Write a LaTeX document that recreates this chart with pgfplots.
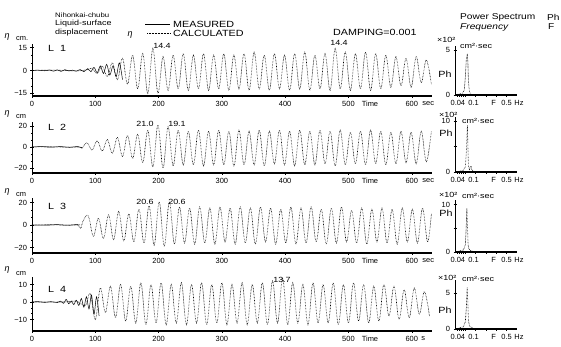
\documentclass[border=0pt]{standalone}
\usepackage{pgfplots}
\pgfplotsset{compat=1.18}
\usepackage{fontspec}
\setmainfont{Liberation Sans}
\newfontfamily\wsans[FakeStretch=1.2]{Liberation Sans}
\newcommand\tk{\fontsize{7.5}{8}\selectfont}
\newcommand\hd{\wsans\fontsize{9}{10}\selectfont}
\newcommand\sm{\wsans\fontsize{7.5}{8}\selectfont}
\newcommand\hr{\wsans\fontsize{8.5}{9}\selectfont}

\pgfplotsset{
  base/.style={scale only axis, clip=false,
    axis x line=bottom, axis y line=left,
    x axis line style={-, line width=1.1bp},
    y axis line style={-, line width=0.6bp},
    every outer x axis line/.append style={-},
    every outer y axis line/.append style={-},
    tick align=center, major tick length=3bp, minor tick length=1.6bp,
    tick style={black, line width=0.5bp},
    tick label style={font=\tk},
    /pgf/number format/assume math mode=true},
  ts/.style={base, width=400bp, xmin=0, xmax=632,
    xtick={0,100,...,600}, minor x tick num=4, minor y tick num=2,
    extra x tick style={tick style={draw=none}}},
  sp/.style={base, width=62bp, xmin=0, xmax=0.6, ymin=0,
    xtick={0.02,0.04,0.06,0.08,0.1,0.2,0.3,0.4,0.5},
    xticklabels={,\makebox[0pt][r]{0.04\hspace{-6bp}},,,\makebox[0pt][l]{\hspace{3bp}0.1},,,,0.5\makebox[0pt][l]{\hspace{2.5bp}Hz}},
    extra x ticks={0.375}, extra x tick labels={F},
    extra x tick style={tick style={draw=none}}},
  calc/.style={black, line width=0.6bp, dash pattern=on 0.6bp off 0.9bp, smooth, tension=0.6},
  meas/.style={black, line width=0.5bp, smooth, tension=0.5},
  spc/.style={black, line width=0.6bp, dash pattern=on 0.6bp off 0.9bp},
}
\tikzset{t/.style={inner sep=0pt}}

\begin{document}
\begin{tikzpicture}
\useasboundingbox (0,0) rectangle (561bp,-347bp);

% ---------------- Row 1 ----------------
\begin{axis}[ts, at={(32bp,-96bp)}, anchor=south west, height=52bp,
  ymin=-16.7, ymax=17.3, ytick={-15,0,15}, yticklabels={−15,0,15},
  extra x ticks={534,626}, extra x tick labels={Time,sec}]
\addplot[meas] coordinates {(0,0)(10,0.2)(20,-0.2)(28,0.3)(34,-0.5)(40,0.4)(46,-0.6)(52,0.5)(58,-0.3)(64,0.2)(70,-0.5)(76,0.6)(82,-0.8)(88,1.2)(93,-0.8)(98,2)(103,-1.5)(108,3)(113,-2)(118,4)(123,-3)(128,3)(133,-4)(138,5)(143,-6)};
\addplot[calc] coordinates {(0,0)(40,0.2)(70,-0.3)(87,0.5)(95,1.5)(103,-2)(111,3)(119,-4)(127,5)(135,-6)(143,8)(151,-9)(159,10)(167,-12)(175,11)(183,-15)(191,14.4)(199,-15)(207,9)(215,-13)(223,10)(231,-12)(239,11)(247,-13)(255,10)(263,-12)(271,11)(279,-13)(287,10)(295,-12)(303,11)(311,-13)(319,10)(327,-12)(335,11)(343,-13)(351,12)(359,-12)(367,10)(375,-13)(383,11)(391,-12)(399,10)(407,-13)(415,11)(423,-12)(431,12)(439,-13)(447,10)(455,-12)(463,11)(471,-13)(479,14.4)(487,-12)(495,12)(503,-13)(511,11)(519,-12)(527,12)(535,-13)(543,11)(551,-12)(559,10)(567,-11)(575,9)(583,-10)(591,8)(599,-11)(607,9)(615,-8)(623,7)(631,-9)};
\end{axis}
\begin{axis}[sp, at={(455bp,-95bp)}, anchor=south west, height=49bp,
  ymax=5.44, ytick={0,5}]
\addplot[spc] coordinates {(0.01,0)(0.03,0.1)(0.05,0.15)(0.07,0.1)(0.09,0.6)(0.1,2)(0.11,4)(0.12,4.6)(0.125,3.5)(0.13,1.5)(0.14,0.4)(0.15,0.1)(0.17,0.05)(0.2,0)};
\end{axis}

% ---------------- Row 2 ----------------
\begin{axis}[ts, at={(32bp,-173bp)}, anchor=south west, height=51bp,
  ymin=-24.8, ymax=23.8, ytick={-20,0,20}, yticklabels={−20,0,20},
  extra x ticks={534,626}, extra x tick labels={Time,sec}]
\addplot[meas] coordinates {(0,0)(15,0.3)(30,-0.2)(45,0.3)(60,-0.3)(72,0.4)(80,-1)};
\addplot[calc] coordinates {(0,0)(30,0.2)(60,-0.2)(75,0)(79,-1)(87,4)(95,-3)(103,6)(111,-4)(119,7)(127,-6)(135,9)(143,-9)(151,11)(159,-11)(167,12)(175,-15)(183,16)(191,-19)(199,21)(207,-20)(215,19.1)(223,-18)(231,16)(239,-17)(247,15)(255,-17)(263,16)(271,-18)(279,15)(287,-17)(295,16)(303,-17)(311,15)(319,-18)(327,16)(335,-17)(343,15)(351,-17)(359,16)(367,-18)(375,15)(383,-16)(391,16)(399,-17)(407,15)(415,-18)(423,16)(431,-17)(439,15)(447,-17)(455,16)(463,-16)(471,15)(479,-18)(487,16)(495,-17)(503,14)(511,-16)(519,15)(527,-17)(535,16)(543,-16)(551,15)(559,-17)(567,14)(575,-16)(583,15)(591,-15)(599,14)(607,-16)(615,15)(623,-14)(631,15)};
\end{axis}
\begin{axis}[sp, at={(455bp,-172bp)}, anchor=south west, height=55bp,
  ymax=10.8, ytick={0,5,10}, yticklabels={0,,10}]
\addplot[spc] coordinates {(0.01,0)(0.05,0.2)(0.08,0.3)(0.1,1)(0.11,4)(0.12,9.2)(0.125,5)(0.13,1.2)(0.14,0.5)(0.155,1.2)(0.165,0.3)(0.2,0)};
\end{axis}

% ---------------- Row 3 ----------------
\begin{axis}[ts, at={(32bp,-253bp)}, anchor=south west, height=55bp,
  ymin=-24.9, ymax=24, ytick={-20,0,20}, yticklabels={−20,0,20},
  extra x ticks={534,626}, extra x tick labels={Time,sec}]
\addplot[meas] coordinates {(0,0)(20,-0.2)(40,0.3)(55,-0.2)(70,0.3)(76,0)};
\addplot[calc] coordinates {(0,0)(30,0.2)(60,-0.2)(72,0)(77,-3)(81,4)(89,8)(97,-10)(105,6)(113,-12)(121,9)(129,-13)(137,12)(145,-14)(153,10)(161,-15)(169,14)(177,-16)(185,17)(193,-18)(201,20.6)(209,-19)(217,20.6)(225,-17)(233,16)(241,-16)(249,15)(257,-17)(265,16)(273,-16)(281,15)(289,-17)(297,16)(305,-15)(313,15)(321,-17)(329,16)(337,-16)(345,15)(353,-17)(361,16)(369,-15)(377,15)(385,-17)(393,14)(401,-16)(409,16)(417,-17)(425,15)(433,-16)(441,16)(449,-15)(457,14)(465,-17)(473,15)(481,-16)(489,16)(497,-15)(505,13)(513,-16)(521,15)(529,-17)(537,14)(545,-15)(553,15)(561,-16)(569,14)(577,-17)(585,15)(593,-15)(601,14)(609,-16)(617,15)(625,-15)(631,10)};
\end{axis}
\begin{axis}[sp, at={(455bp,-252bp)}, anchor=south west, height=52bp,
  ymax=11, ytick={0,5,10}, yticklabels={0,,10}]
\addplot[spc] coordinates {(0.01,0)(0.05,0.3)(0.08,0.4)(0.1,1.5)(0.108,5)(0.115,9.3)(0.12,6)(0.127,1.5)(0.135,0.6)(0.15,0.3)(0.2,0)};
\end{axis}

% ---------------- Row 4 ----------------
\begin{axis}[ts, at={(32bp,-331bp)}, anchor=south west, height=54bp,
  ymin=-16.6, ymax=14.3, ytick={-10,0,10}, yticklabels={−10,0,10},
  extra x ticks={534,618}, extra x tick labels={Time,s}]
\addplot[meas] coordinates {(0,0)(10,0.2)(20,-0.2)(30,0.2)(40,-0.3)(45,0.5)(50,-0.8)(54,1.5)(58,-1)(62,0.5)(66,-1.5)(70,1)(74,-2)(78,2)(82,-3)(86,3)(90,-4)(94,4)(98,-7)(102,3)(106,-8)};
\addplot[calc] coordinates {(0,0)(50,0)(70,0.5)(84,-2)(92,5)(100,-10)(108,8)(116,-6)(124,9)(132,-9)(140,10)(148,-11)(156,9)(164,-12)(172,11)(180,-13)(188,10)(196,-12)(204,11)(212,-13)(220,10)(228,-12)(236,11)(244,-13)(252,10)(260,-12)(268,11)(276,-13)(284,10)(292,-12)(300,11)(308,-13)(316,10)(324,-12)(332,11)(340,-13)(348,10)(356,-12)(364,11)(372,-13)(380,12)(388,-12)(396,13.7)(404,-13)(412,11)(420,-12)(428,10)(436,-13)(444,11)(452,-12)(460,10)(468,-12)(476,11)(484,-13)(492,10)(500,-12)(508,11)(516,-11)(524,10)(532,-12)(540,9)(548,-11)(556,10)(564,-8)(572,9)(580,-10)(588,7)(596,-9)(604,8)(612,-7)(620,6)(628,-8)};
\end{axis}
\begin{axis}[sp, at={(455bp,-329bp)}, anchor=south west, height=49bp,
  ymax=6.8, ytick={0,5}]
\addplot[spc] coordinates {(0.01,0)(0.05,0.2)(0.08,0.3)(0.1,1)(0.11,3)(0.118,5.8)(0.125,3.5)(0.13,1.2)(0.14,0.4)(0.16,0.2)(0.2,0)};
\end{axis}

% ---------------- Header text ----------------
\node[t, anchor=west, font=\wsans\fontsize{6.5}{7}\selectfont] at (55bp,-15bp) {Nihonkai-chubu};
\node[t, anchor=west, font=\sm] at (55bp,-24bp) {Liquid-surface};
\node[t, anchor=west, font=\sm] at (55bp,-33bp) {displacement};
\node[t, font=\fontsize{9}{10}\selectfont\itshape] at (130bp,-35bp) {η};
\draw[line width=0.9bp] (145bp,-24bp) -- (170bp,-24bp);
\node[t, anchor=west, font=\hd] at (173bp,-24bp) {MEASURED};
\draw[line width=0.6bp, dash pattern=on 0.6bp off 0.9bp] (147bp,-33bp) -- (170bp,-33bp);
\node[t, anchor=west, font=\hd] at (173bp,-33bp) {CALCULATED};
\node[t, anchor=west, font=\hd] at (333bp,-32bp) {DAMPING=0.001};
\node[t, anchor=west, font=\hr] at (460bp,-17bp) {Power Spectrum};
\node[t, anchor=west, font=\hr] at (547bp,-17bp) {Ph};
\node[t, anchor=west, font=\hr\itshape] at (460bp,-27bp) {Frequency};
\node[t, anchor=west, font=\hr] at (548bp,-27bp) {F};

% eta cm labels
\node[t, font=\fontsize{9}{9}\selectfont\itshape] at (7bp,-37bp) {η};
\node[t, anchor=west, font=\tk] at (16bp,-39bp) {cm.};
\node[t, font=\fontsize{9}{9}\selectfont\itshape] at (7bp,-114bp) {η};
\node[t, anchor=west, font=\tk] at (16bp,-117bp) {cm};
\node[t, font=\fontsize{9}{9}\selectfont\itshape] at (7bp,-192bp) {η};
\node[t, anchor=west, font=\tk] at (16bp,-195bp) {cm};
\node[t, font=\fontsize{9}{9}\selectfont\itshape] at (7bp,-270bp) {η};
\node[t, anchor=west, font=\tk] at (16bp,-274bp) {cm};

% panel labels
\node[t, anchor=west, font=\hd] at (48bp,-48bp) {L\hspace{6bp}1};
\node[t, anchor=west, font=\hd] at (48bp,-127bp) {L\hspace{6bp}2};
\node[t, anchor=west, font=\hd] at (48bp,-206bp) {L\hspace{6bp}3};
\node[t, anchor=west, font=\hd] at (48bp,-289bp) {L\hspace{6bp}4};

% peak values
\node[t, font=\sm] at (162bp,-46bp) {14.4};
\node[t, font=\sm] at (339bp,-43bp) {14.4};
\node[t, font=\sm] at (145bp,-124bp) {21.0};
\node[t, font=\sm] at (177bp,-124bp) {19.1};
\node[t, font=\sm] at (145bp,-202bp) {20.6};
\node[t, font=\sm] at (177bp,-202bp) {20.6};
\node[t, font=\sm] at (282bp,-280bp) {13.7};

% spectrum annotations
\node[t, anchor=west, font=\sm] at (437bp,-40bp) {×10²};
\node[t, anchor=west, font=\sm] at (460bp,-46bp) {cm²·sec};
\node[t, font=\hd] at (445bp,-74bp) {Ph};
\node[t, anchor=west, font=\sm] at (439bp,-115bp) {×10²};
\node[t, anchor=west, font=\sm] at (462bp,-121bp) {cm²·sec};
\node[t, font=\hd] at (446bp,-133bp) {Ph};
\node[t, anchor=west, font=\sm] at (439bp,-195bp) {×10²};
\node[t, anchor=west, font=\sm] at (462bp,-196bp) {cm²·sec};
\node[t, font=\hd] at (446bp,-213bp) {Ph};
\node[t, anchor=west, font=\sm] at (438bp,-278bp) {×10²};
\node[t, anchor=west, font=\sm] at (462bp,-279bp) {cm²·sec};
\node[t, font=\hd] at (445bp,-310bp) {Ph};
\end{tikzpicture}
\end{document}
